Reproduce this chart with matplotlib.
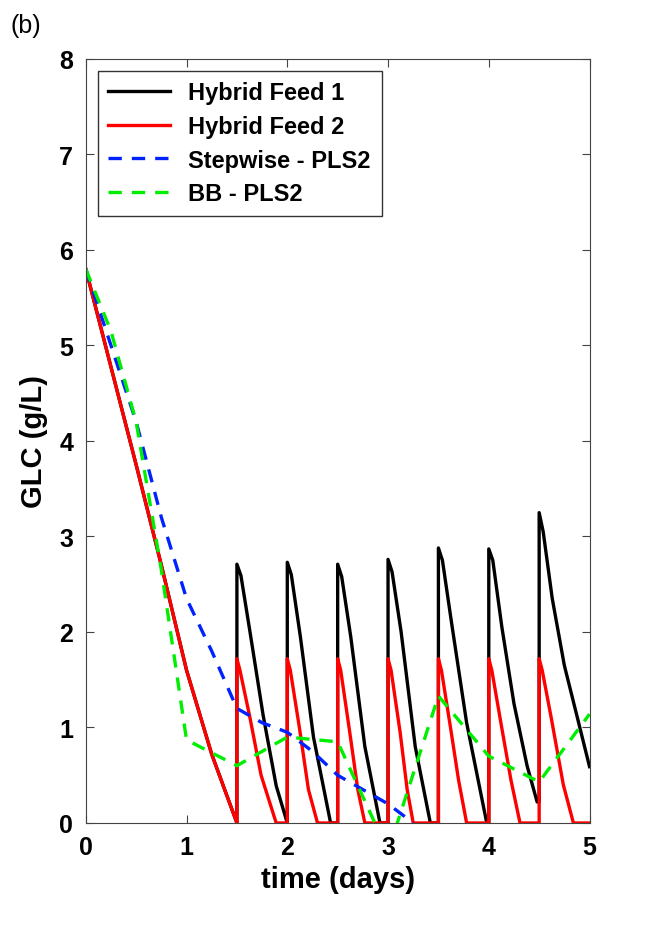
import numpy as np
import matplotlib.pyplot as plt

plt.rcParams['font.family'] = 'Liberation Sans'
plt.rcParams['font.weight'] = 'bold'

# Hybrid Feed 1 (sawtooth)
t1 = [0, 0.5, 0.75, 1.0, 1.25, 1.5,
      1.5, 1.54, 1.63, 1.76, 1.89, 2.0,
      2.0, 2.04, 2.13, 2.26, 2.43, 2.5,
      2.5, 2.54, 2.63, 2.77, 2.92, 3.0,
      3.0, 3.04, 3.13, 3.27, 3.42, 3.5,
      3.5, 3.54, 3.63, 3.78, 3.98, 4.0,
      4.0, 4.04, 4.13, 4.25, 4.38, 4.48, 4.5,
      4.5, 4.54, 4.63, 4.75, 4.88, 5.0]
g1 = [5.8, 3.75, 2.7, 1.6, 0.72, 0.0,
      2.71, 2.59, 2.0, 1.13, 0.39, 0.0,
      2.73, 2.6, 1.95, 0.9, 0.0, 0.0,
      2.71, 2.58, 1.95, 0.8, 0.0, 0.0,
      2.76, 2.63, 2.0, 0.8, 0.0, 0.0,
      2.88, 2.75, 2.1, 1.05, 0.0, 0.0,
      2.87, 2.75, 2.05, 1.25, 0.6, 0.22, 0.22,
      3.25, 3.05, 2.35, 1.65, 1.1, 0.59]

# Hybrid Feed 2
t2 = [0, 0.5, 0.75, 1.0, 1.25, 1.5,
      1.5, 1.53, 1.63, 1.74, 1.89, 2.0,
      2.0, 2.03, 2.12, 2.21, 2.30, 2.5,
      2.5, 2.53, 2.62, 2.70, 2.77, 3.0,
      3.0, 3.03, 3.12, 3.19, 3.25, 3.5,
      3.5, 3.53, 3.62, 3.70, 3.78, 4.0,
      4.0, 4.03, 4.12, 4.22, 4.31, 4.5,
      4.5, 4.53, 4.62, 4.74, 4.84, 5.0]
g2 = [5.8, 3.75, 2.7, 1.6, 0.72, 0.0,
      1.72, 1.6, 1.1, 0.5, 0.0, 0.0,
      1.72, 1.6, 1.0, 0.35, 0.0, 0.0,
      1.72, 1.6, 0.95, 0.35, 0.0, 0.0,
      1.72, 1.6, 0.95, 0.35, 0.0, 0.0,
      1.72, 1.6, 1.0, 0.45, 0.0, 0.0,
      1.72, 1.6, 1.05, 0.45, 0.0, 0.0,
      1.72, 1.6, 1.1, 0.4, 0.0, 0.0]

# Stepwise - PLS2
t3 = [0, 0.25, 0.5, 0.75, 1.0, 1.25, 1.5, 1.75, 2.0, 2.25, 2.5, 2.75, 3.0, 3.25]
g3 = [5.8, 5.0, 4.2, 3.2, 2.35, 1.8, 1.2, 1.05, 0.95, 0.75, 0.5, 0.35, 0.2, 0.0]

# BB - PLS2
t4 = [0, 0.25, 0.5, 0.75, 1.0, 1.5, 2.0, 2.5, 3.0, 3.5, 4.0, 4.5, 5.0]
g4 = [5.8, 5.15, 4.2, 2.65, 0.87, 0.6, 0.9, 0.85, -0.3, 1.33, 0.7, 0.43, 1.14]

fig = plt.figure(figsize=(6.45, 9.37), dpi=100)
ax = fig.add_axes([0.133, 0.1206, 0.781, 0.8154])
ax.plot(t1, g1, color='black', lw=2.4, label='Hybrid Feed 1')
ax.plot(t2, g2, color='red', lw=2.4, label='Hybrid Feed 2')
ax.plot(t3, g3, color='#0022ff', lw=2.4, ls=(0, (4, 3)), label='Stepwise - PLS2')
ax.plot(t4, g4, color='#00ee00', lw=2.4, ls=(0, (4, 3)), label='BB - PLS2')

ax.set_xlim(0, 5)
ax.set_ylim(0, 8)
ax.set_xticks(range(6))
ax.set_yticks(range(9))
ax.tick_params(direction='in', labelsize=18, length=6, pad=9, top=True, right=True, color='#444444')
for s in ax.spines.values():
    s.set_color('#444444')
ax.set_xlabel('time (days)', fontsize=21, fontweight='bold', labelpad=4)
ax.set_ylabel('GLC (g/L)', fontsize=21, fontweight='bold', labelpad=8)
leg = ax.legend(loc='upper left', fontsize=17, frameon=True, fancybox=False,
                edgecolor='black', handlelength=2.6, borderpad=0.45, labelspacing=0.45,
                bbox_to_anchor=(0.0, 1.0))
leg.get_frame().set_linewidth(1.0)
fig.text(0.016, 0.965, '(b)', fontsize=18, fontweight='normal')
fig.savefig('out.png')
